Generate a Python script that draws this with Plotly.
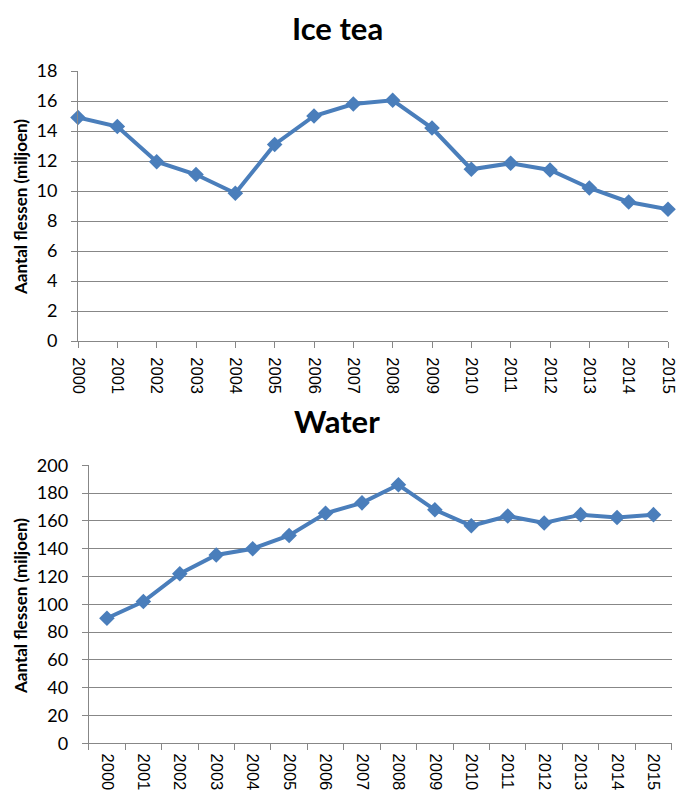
import plotly.graph_objects as go

years = [str(y) for y in range(2000, 2016)]
ice_tea = [14.9, 14.3, 11.95, 11.1, 9.85, 13.1, 15.0, 15.8, 16.05, 14.2, 11.45, 11.85, 11.4, 10.2, 9.27, 8.78]
water = [90, 102, 122, 135.5, 140, 149.5, 165.5, 173, 186, 168, 156.5, 163.5, 158.5, 164.5, 162.5, 164.5]
ice_ticks = list(range(0, 19, 2))
water_ticks = list(range(0, 201, 20))

W, H = 676, 794
LINE = "#4A7EBB"
GRID = "#878787"
FONT = "Lato"

def px_x(v):
    return v / W

def px_y(v):
    return 1 - v / H

fig = go.Figure()
fig.add_trace(go.Scatter(x=years, y=ice_tea, mode="lines+markers", xaxis="x", yaxis="y",
                         line=dict(color=LINE, width=4),
                         marker=dict(symbol="diamond", size=12, color=LINE),
                         cliponaxis=False, showlegend=False))
fig.add_trace(go.Scatter(x=years, y=water, mode="lines+markers", xaxis="x2", yaxis="y2",
                         line=dict(color=LINE, width=4),
                         marker=dict(symbol="diamond", size=12, color=LINE),
                         cliponaxis=False, showlegend=False))

xcommon = dict(type="category", showgrid=False, showline=True, linecolor=GRID, linewidth=1,
               ticks="outside", ticklen=6, tickcolor=GRID, tickangle=90, automargin=False,
               ticklabelstandoff=6,
               tickfont=dict(family="Liberation Sans", size=16.5, color="black"))
ycommon = dict(showgrid=True, gridcolor=GRID, gridwidth=1, showline=True, linecolor=GRID,
               linewidth=1, ticks="outside", ticklen=6, tickcolor=GRID, zeroline=False,
               automargin=False, ticklabelstandoff=10,
               tickfont=dict(family=FONT, size=18, color="black"))

fig.update_layout(
    template="none",
    width=W, height=H, margin=dict(l=0, r=0, t=0, b=0, autoexpand=False),
    paper_bgcolor="white", plot_bgcolor="white",
    xaxis=dict(xcommon, domain=[px_x(78), px_x(668)], range=[0, 15], anchor="y",
               tickvals=years, ticktext=years),
    yaxis=dict(ycommon, domain=[px_y(341), px_y(71)], range=[0, 18], tickvals=ice_ticks, anchor="x"),
    xaxis2=dict(xcommon, domain=[px_x(88.7), px_x(671.7)], range=[-0.5, 15.5], anchor="y2",
                tickson="boundaries", tickvals=years, ticktext=years),
    yaxis2=dict(ycommon, domain=[px_y(743.3), px_y(465.3)], range=[0, 200], tickvals=water_ticks, anchor="x2"),
)

annots = [
    dict(text="<b>Ice tea</b>", x=px_x(337), y=px_y(28), font=dict(family=FONT, size=31, color="black")),
    dict(text="<b>Water</b>", x=px_x(337), y=px_y(421), font=dict(family=FONT, size=31, color="black")),
    dict(text="<b>Aantal flessen (miljoen)</b>", x=px_x(20), y=px_y(207), textangle=-90,
         font=dict(family=FONT, size=17, color="black")),
    dict(text="<b>Aantal flessen (miljoen)</b>", x=px_x(20), y=px_y(606), textangle=-90,
         font=dict(family=FONT, size=17, color="black")),
]
for a in annots:
    fig.add_annotation(xref="paper", yref="paper", showarrow=False, xanchor="center", yanchor="middle", **a)

fig.write_html("out.html", config={"displayModeBar": False})

# remove the default page margin so the figure sits at the window's top-left corner
with open("out.html", "r", encoding="utf-8") as f:
    html = f.read()
html = html.replace("<head>", "<head><style>html,body{margin:0;padding:0;overflow:hidden;}</style>", 1)
with open("out.html", "w", encoding="utf-8") as f:
    f.write(html)
